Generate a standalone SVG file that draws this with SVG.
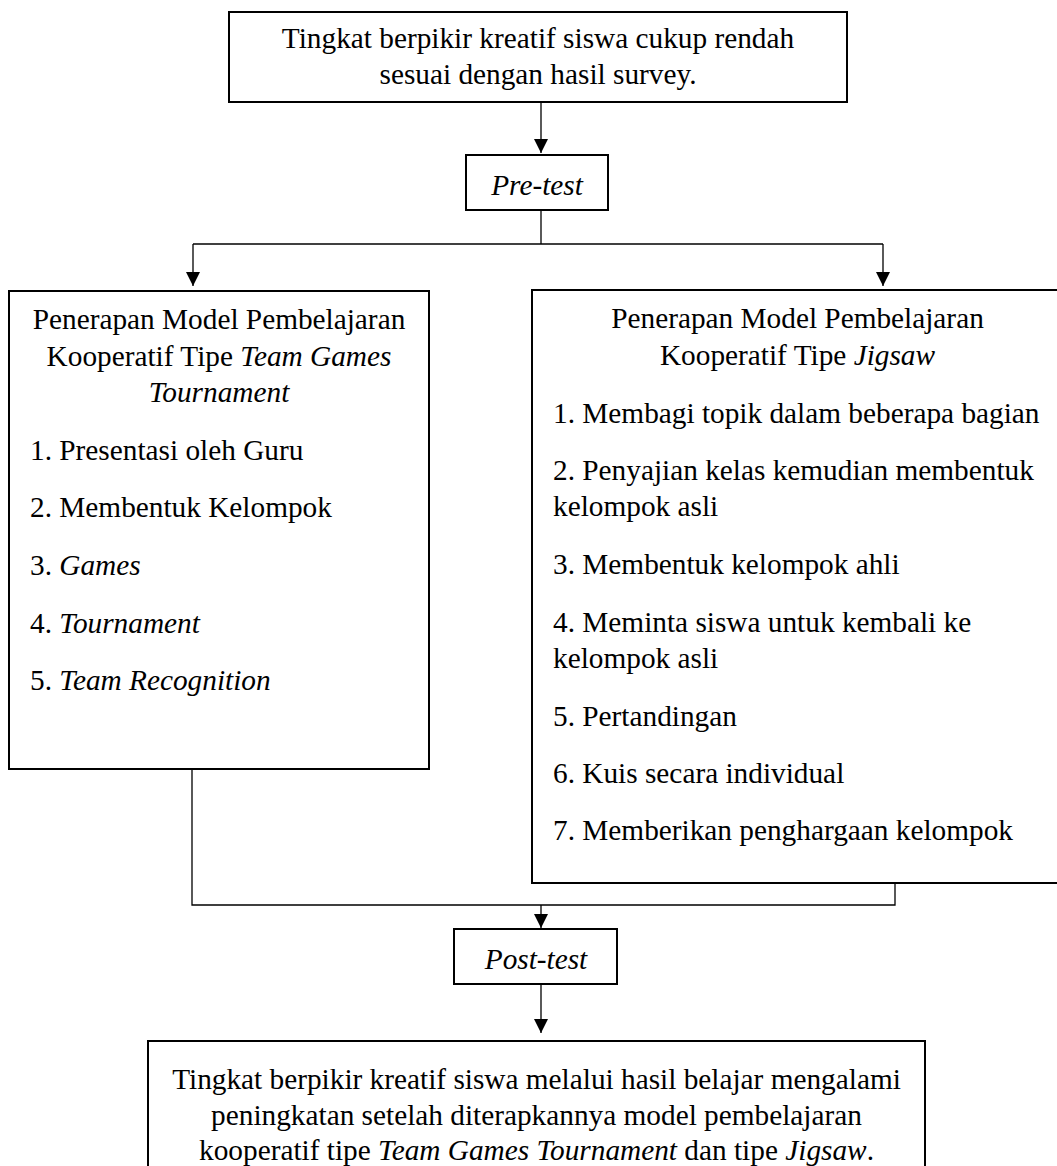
<svg xmlns="http://www.w3.org/2000/svg" width="1057" height="1166" viewBox="0 0 1057 1166">
  <style>
    .box { fill: #ffffff; stroke: #000000; stroke-width: 2; }
    .conn { fill: none; stroke: #000000; stroke-width: 1.3; }
    .t { font-family: "Liberation Serif", "Times New Roman", serif; font-size: 29.3px; fill: #000000; }
    .c { text-anchor: middle; }
    .i { font-style: italic; }
  </style>
  <defs>
    <marker id="arrow" viewBox="0 0 10 10" refX="10" refY="5" markerUnits="userSpaceOnUse" markerWidth="15" markerHeight="14" orient="auto">
      <path d="M0,0 L10,5 L0,10 z" fill="#000000"/>
    </marker>
  </defs>
  <rect width="1057" height="1166" fill="#ffffff"/>

  <g id="connectors">
    <path class="conn" d="M541,102 V153" marker-end="url(#arrow)"/>
    <path class="conn" d="M541,210 V244"/>
    <path class="conn" d="M193,244 H883"/>
    <path class="conn" d="M193,244 V286" marker-end="url(#arrow)"/>
    <path class="conn" d="M883,244 V286" marker-end="url(#arrow)"/>
    <path class="conn" d="M192,769 V905 H895 V883"/>
    <path class="conn" d="M541,905 V928" marker-end="url(#arrow)"/>
    <path class="conn" d="M541,984 V1033" marker-end="url(#arrow)"/>
  </g>

  <g id="node-problem">
    <rect class="box" x="229" y="12" width="618" height="90"/>
    <text class="t c" x="538" y="48">Tingkat berpikir kreatif siswa cukup rendah</text>
    <text class="t c" x="538" y="84">sesuai dengan hasil survey.</text>
  </g>

  <g id="node-pretest">
    <rect class="box" x="466" y="155" width="142" height="55"/>
    <text class="t c i" x="537" y="195">Pre-test</text>
  </g>

  <g id="node-tgt">
    <rect class="box" x="9" y="291" width="420" height="478"/>
    <text class="t c" x="219" y="329">Penerapan Model Pembelajaran</text>
    <text class="t c" x="219" y="366">Kooperatif Tipe <tspan class="i">Team Games</tspan></text>
    <text class="t c i" x="219" y="402">Tournament</text>
    <text class="t" x="30" y="460">1. Presentasi oleh Guru</text>
    <text class="t" x="30" y="517">2. Membentuk Kelompok</text>
    <text class="t" x="30" y="575">3. <tspan class="i">Games</tspan></text>
    <text class="t" x="30" y="633">4. <tspan class="i">Tournament</tspan></text>
    <text class="t" x="30" y="690">5. <tspan class="i">Team Recognition</tspan></text>
  </g>

  <g id="node-jigsaw">
    <rect class="box" x="532" y="290" width="531" height="593"/>
    <text class="t c" x="797.5" y="328">Penerapan Model Pembelajaran</text>
    <text class="t c" x="797.5" y="365">Kooperatif Tipe <tspan class="i">Jigsaw</tspan></text>
    <text class="t" x="553" y="423">1. Membagi topik dalam beberapa bagian</text>
    <text class="t" x="553" y="480">2. Penyajian kelas kemudian membentuk</text>
    <text class="t" x="553" y="516">kelompok asli</text>
    <text class="t" x="553" y="574">3. Membentuk kelompok ahli</text>
    <text class="t" x="553" y="632">4. Meminta siswa untuk kembali ke</text>
    <text class="t" x="553" y="668">kelompok asli</text>
    <text class="t" x="553" y="726">5. Pertandingan</text>
    <text class="t" x="553" y="783">6. Kuis secara individual</text>
    <text class="t" x="553" y="840">7. Memberikan penghargaan kelompok</text>
  </g>

  <g id="node-posttest">
    <rect class="box" x="454" y="929" width="163" height="55"/>
    <text class="t c i" x="536" y="969">Post-test</text>
  </g>

  <g id="node-result">
    <rect class="box" x="148" y="1041" width="777" height="140"/>
    <text class="t c" x="536.5" y="1089">Tingkat berpikir kreatif siswa melalui hasil belajar mengalami</text>
    <text class="t c" x="536.5" y="1125">peningkatan setelah diterapkannya model pembelajaran</text>
    <text class="t c" x="536.5" y="1160">kooperatif tipe <tspan class="i">Team Games Tournament</tspan> dan tipe <tspan class="i">Jigsaw</tspan>.</text>
  </g>
</svg>
